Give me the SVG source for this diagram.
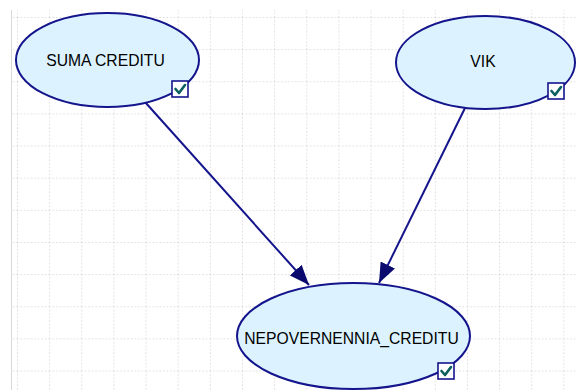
<svg xmlns="http://www.w3.org/2000/svg" width="577" height="390" viewBox="0 0 577 390">
  <style>
    .node { fill: #dcf3ff; stroke: #14148c; stroke-width: 2; }
    .label { font-family: "Liberation Sans", Arial, sans-serif; font-size: 15.7px; fill: #000; text-anchor: middle; }
    .box { fill: #ffffff; stroke: #14148c; stroke-width: 1.6; }
    .check { fill: none; stroke: #0a5f5f; stroke-width: 2.6; stroke-linecap: round; stroke-linejoin: round; }
    .edge { stroke: #14148c; stroke-width: 2; fill: none; marker-end: url(#arrow); }
  </style>
  <defs>
    <pattern id="grid" patternUnits="userSpaceOnUse" x="17" y="17" width="32.14" height="32.14">
      <line x1="0" y1="0.5" x2="32.14" y2="0.5" stroke="#dcdcdc" stroke-width="1" stroke-dasharray="1.5,2"/>
      <line x1="0.5" y1="0" x2="0.5" y2="32.14" stroke="#dcdcdc" stroke-width="1" stroke-dasharray="1.5,2"/>
    </pattern>
    <marker id="arrow" markerUnits="userSpaceOnUse" markerWidth="20" markerHeight="16" refX="20" refY="8" orient="auto">
      <path d="M0,0 L20,8 L0,16 z" fill="#0a0a6e"/>
    </marker>
  </defs>
  <rect width="577" height="390" fill="#ffffff"/>
  <rect x="12" y="10" width="565" height="380" fill="url(#grid)"/>
  <line x1="11.5" y1="10" x2="11.5" y2="390" stroke="#d8d8d8" stroke-width="1"/>

  <g id="connectors">
    <line class="edge" x1="145" y1="102" x2="309" y2="285"/>
    <line class="edge" x1="465" y1="108" x2="379" y2="283"/>
  </g>

  <g id="node-suma">
    <ellipse class="node" cx="107.5" cy="60" rx="91.5" ry="47"/>
    <text class="label" x="105.5" y="65.5">SUMA CREDITU</text>
    <rect class="box" x="172" y="81" width="16" height="16"/>
    <path class="check" d="M175.5,89 L179,93 L185,85"/>
  </g>

  <g id="node-vik">
    <ellipse class="node" cx="485.5" cy="62.5" rx="89.5" ry="46.5"/>
    <text class="label" x="483" y="67">VIK</text>
    <rect class="box" x="548" y="83" width="16" height="16"/>
    <path class="check" d="M551.5,91 L555,95 L561,87"/>
  </g>

  <g id="node-nepo">
    <ellipse class="node" cx="353.5" cy="336" rx="116.5" ry="53"/>
    <text class="label" x="351.5" y="344">NEPOVERNENNIA_CREDITU</text>
    <rect class="box" x="438" y="363" width="16" height="16"/>
    <path class="check" d="M441.5,371 L445,375 L451,367"/>
  </g>
</svg>
